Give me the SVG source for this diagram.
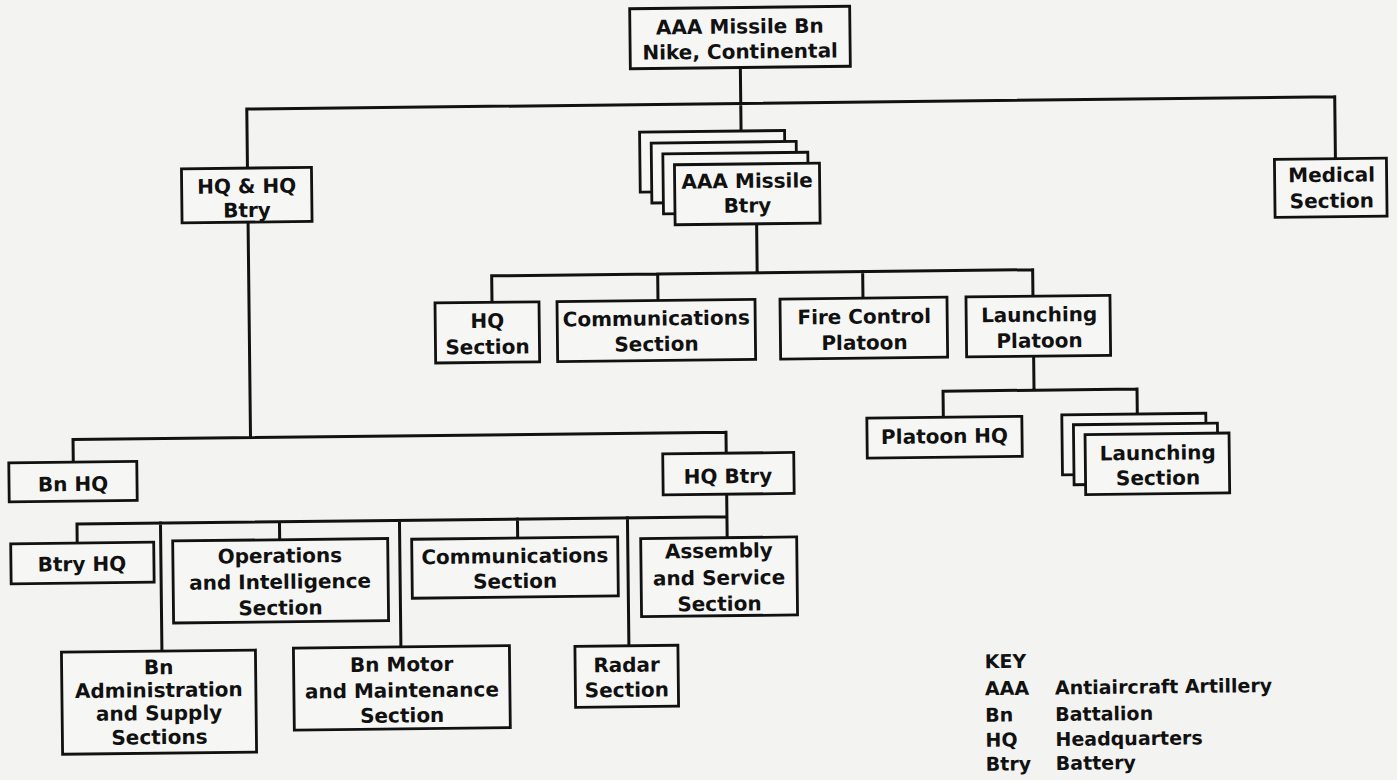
<svg xmlns="http://www.w3.org/2000/svg" width="1397" height="780" viewBox="0 0 1397 780">
<style>
.bg{fill:#f3f3f1}
.box{fill:#f6f6f4;stroke:#111;stroke-width:2.8}
.ln{fill:none;stroke:#111;stroke-width:3;stroke-linecap:square}
.t{font-family:"DejaVu Sans","Liberation Sans",sans-serif;font-weight:bold;font-size:20px;fill:#111;text-anchor:middle}
.k{font-family:"DejaVu Sans","Liberation Sans",sans-serif;font-weight:bold;font-size:19px;fill:#111}
</style>
<rect class="bg" x="0" y="0" width="1397" height="780"/>
<g transform="rotate(-0.65 698 390)">
<g id="connectors">
<path class="ln" d="M744 68V131.5M250 104H1338M250 104V163M1338 104V166M250 217V432.5M72.5 432.5H725.5M72.5 432.5V455M725.5 432.5V453.5M725.5 494.5V538M75.5 517H725.5M75.5 517V536M159 517V645M278 517V535M398 517V643.5M516 517V536M626 517V645M758.5 224.5V273.5M493 273.5H1034M493 273.5V300M659 273.5V300M864 273.5V300M1034 273.5V300M1034 360V394M943 394H1137M943 394V420M1137 394V419"/>
</g>
<g id="n-bn">
<rect class="box" x="634" y="8" width="220" height="60"/>
<text class="t" x="744" y="34">AAA Missile Bn</text>
<text class="t" x="744" y="59">Nike, Continental</text>
</g>
<g id="n-hqhq">
<rect class="box" x="184" y="163" width="130" height="54"/>
<text class="t" x="249" y="188">HQ &amp; HQ</text>
<text class="t" x="249" y="212">Btry</text>
</g>
<g id="n-btry">
<rect class="box" x="642.5" y="131.5" width="145" height="60"/>
<rect class="box" x="654" y="142.5" width="145" height="60"/>
<rect class="box" x="665.5" y="153.5" width="145" height="60"/>
<rect class="box" x="677" y="164.5" width="145" height="60"/>
<text class="t" x="749.5" y="188.5">AAA Missile</text>
<text class="t" x="749.5" y="213">Btry</text>
</g>
<g id="n-medical">
<rect class="box" x="1277" y="166" width="112" height="58"/>
<text class="t" x="1334" y="189">Medical</text>
<text class="t" x="1334" y="215">Section</text>
</g>
<g id="n-hqsec">
<rect class="box" x="436" y="300" width="104" height="60"/>
<text class="t" x="488" y="325.5">HQ</text>
<text class="t" x="488" y="351.5">Section</text>
</g>
<g id="n-comms1">
<rect class="box" x="558" y="300" width="198" height="60"/>
<text class="t" x="657" y="325">Communications</text>
<text class="t" x="657" y="350.5">Section</text>
</g>
<g id="n-fire">
<rect class="box" x="781" y="300" width="167" height="60"/>
<text class="t" x="865" y="325.5">Fire Control</text>
<text class="t" x="865" y="351.5">Platoon</text>
</g>
<g id="n-lplt">
<rect class="box" x="967" y="300" width="144" height="60"/>
<text class="t" x="1040" y="325.5">Launching</text>
<text class="t" x="1040" y="351.5">Platoon</text>
</g>
<g id="n-plthq">
<rect class="box" x="866.5" y="420" width="155" height="40"/>
<text class="t" x="944" y="446">Platoon HQ</text>
</g>
<g id="n-lsec">
<rect class="box" x="1061.5" y="419" width="144" height="60"/>
<rect class="box" x="1073" y="429" width="144" height="60"/>
<rect class="box" x="1084.5" y="439" width="144" height="60"/>
<text class="t" x="1157" y="465">Launching</text>
<text class="t" x="1157" y="490">Section</text>
</g>
<g id="n-bnhq">
<rect class="box" x="8" y="455" width="128" height="39"/>
<text class="t" x="72" y="484">Bn HQ</text>
</g>
<g id="n-hqbtry">
<rect class="box" x="662" y="453.5" width="131" height="41"/>
<text class="t" x="727" y="483.5">HQ Btry</text>
</g>
<g id="n-btryhq">
<rect class="box" x="9" y="536" width="143" height="40"/>
<text class="t" x="80" y="564">Btry HQ</text>
</g>
<g id="n-ops">
<rect class="box" x="171" y="535" width="215" height="82"/>
<text class="t" x="278" y="558">Operations</text>
<text class="t" x="278" y="584">and Intelligence</text>
<text class="t" x="278" y="610">Section</text>
</g>
<g id="n-comms2">
<rect class="box" x="410" y="536" width="206" height="59"/>
<text class="t" x="513" y="561">Communications</text>
<text class="t" x="513" y="586">Section</text>
</g>
<g id="n-assembly">
<rect class="box" x="639" y="538" width="156" height="78"/>
<text class="t" x="717" y="558">Assembly</text>
<text class="t" x="717" y="585">and Service</text>
<text class="t" x="717" y="611">Section</text>
</g>
<g id="n-admin">
<rect class="box" x="58.5" y="645" width="194" height="102"/>
<text class="t" x="155.5" y="668">Bn</text>
<text class="t" x="155.5" y="691">Administration</text>
<text class="t" x="155.5" y="714">and Supply</text>
<text class="t" x="155.5" y="738">Sections</text>
</g>
<g id="n-motor">
<rect class="box" x="290.5" y="643.5" width="216" height="82"/>
<text class="t" x="398.5" y="668">Bn Motor</text>
<text class="t" x="398.5" y="694">and Maintenance</text>
<text class="t" x="398.5" y="719">Section</text>
</g>
<g id="n-radar">
<rect class="box" x="572" y="645" width="103" height="61"/>
<text class="t" x="623.5" y="671">Radar</text>
<text class="t" x="623.5" y="696">Section</text>
</g>
<g id="key">
<text class="k" x="981.5" y="671.5">KEY</text>
<text class="k" x="981.5" y="698.5">AAA</text>
<text class="k" x="1051.5" y="698.5">Antiaircraft Artillery</text>
<text class="k" x="981.5" y="725">Bn</text>
<text class="k" x="1051.5" y="725">Battalion</text>
<text class="k" x="981.5" y="750">HQ</text>
<text class="k" x="1051.5" y="750">Headquarters</text>
<text class="k" x="981.5" y="774">Btry</text>
<text class="k" x="1051.5" y="774">Battery</text>
</g>
</g>
</svg>
